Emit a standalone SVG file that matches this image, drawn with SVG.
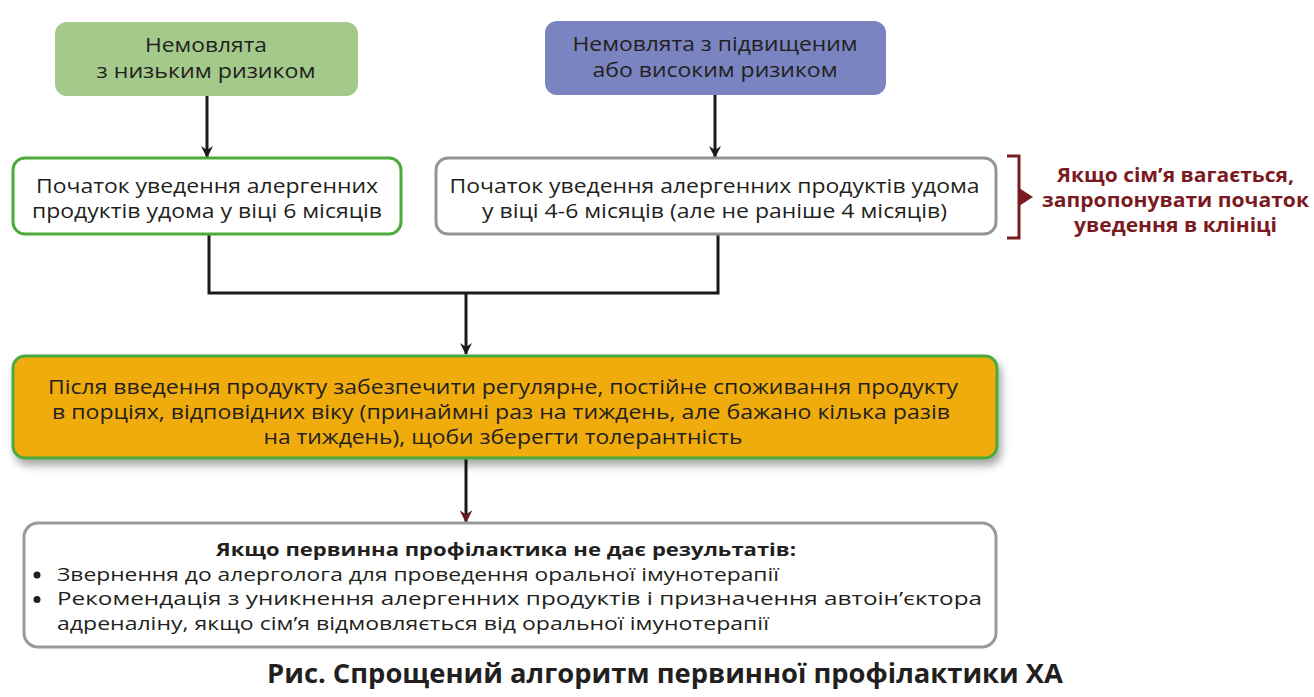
<svg xmlns="http://www.w3.org/2000/svg" width="1314" height="697" viewBox="0 0 1314 697">
<defs>
<style>
text{font-family:"Open Sans","Noto Sans","DejaVu Sans",sans-serif;font-size:20px;fill:#231f20;text-anchor:middle}
.b{font-weight:bold}
.s{font-size:18px}
.red{fill:#7a1a1f;font-weight:bold;font-size:20px}
.l{text-anchor:start}
.cap{font-size:26px;font-weight:bold}
.conn{fill:none;stroke:#1a1a1a;stroke-width:3}
</style>
<marker id="ahk" viewBox="0 0 12 12" refX="11" refY="6" markerWidth="12" markerHeight="12" orient="auto" markerUnits="userSpaceOnUse">
<path d="M0,0 L12,6 L0,12 L4,6 z" fill="#1a1a1a"/>
</marker>
<marker id="ahr" viewBox="0 0 12 12" refX="11" refY="6" markerWidth="13" markerHeight="13" orient="auto" markerUnits="userSpaceOnUse">
<path d="M0,0 L12,6 L0,12 L4,6 z" fill="#6b1a1a"/>
</marker>
<filter id="sh" x="-5%" y="-20%" width="110%" height="150%">
<feDropShadow dx="3" dy="6" stdDeviation="4" flood-color="#000" flood-opacity="0.35"/>
</filter>
</defs>
<rect width="1314" height="697" fill="#ffffff"/>

<g id="connectors">
<line class="conn" x1="207" y1="96" x2="207" y2="157" stroke-width="2" marker-end="url(#ahk)"/>
<line class="conn" x1="715" y1="95" x2="715" y2="157" stroke-width="2" marker-end="url(#ahk)"/>
<polyline class="conn" points="209,235 209,293 718,293 718,235"/>
<line class="conn" x1="466" y1="293" x2="466" y2="354" stroke-width="2" marker-end="url(#ahk)"/>
<line class="conn" x1="466" y1="458" x2="466" y2="522" stroke="#6b1a1a" marker-end="url(#ahr)"/>
</g>

<g id="node-low">
<rect x="55" y="22" width="303" height="74" rx="12" fill="#a3c98b"/>
<text x="206" y="52" textLength="122" lengthAdjust="spacingAndGlyphs">Немовлята</text>
<text x="206" y="78" textLength="219" lengthAdjust="spacingAndGlyphs">з низьким ризиком</text>
</g>

<g id="node-high">
<rect x="545" y="21" width="341" height="74" rx="12" fill="#7a84c0"/>
<text x="715" y="51" textLength="285" lengthAdjust="spacingAndGlyphs">Немовлята з підвищеним</text>
<text x="715" y="77" textLength="245" lengthAdjust="spacingAndGlyphs">або високим ризиком</text>
</g>

<g id="node-6m">
<rect x="13" y="158" width="388" height="76" rx="12" fill="#fff" stroke="#4caa3c" stroke-width="3"/>
<text x="207" y="193" textLength="342" lengthAdjust="spacingAndGlyphs">Початок уведення алергенних</text>
<text x="207" y="218" textLength="350" lengthAdjust="spacingAndGlyphs">продуктів удома у віці 6 місяців</text>
</g>

<g id="node-4-6m">
<rect x="436" y="158" width="560" height="76" rx="12" fill="#fff" stroke="#949494" stroke-width="3"/>
<text x="714.5" y="193" textLength="530" lengthAdjust="spacingAndGlyphs">Початок уведення алергенних продуктів удома</text>
<text x="714.5" y="218" textLength="465" lengthAdjust="spacingAndGlyphs">у віці 4-6 місяців (але не раніше 4 місяців)</text>
</g>

<g id="note-clinic">
<path d="M1007,156 L1019,156 L1019,238 L1007,238" fill="none" stroke="#7a1a1f" stroke-width="3"/>
<path d="M1019,188 L1033,197 L1019,206 z" fill="#7a1a1f"/>
<text class="red" x="1175.5" y="182" textLength="237" lengthAdjust="spacingAndGlyphs">Якщо сім’я вагається,</text>
<text class="red" x="1175.5" y="207" textLength="267" lengthAdjust="spacingAndGlyphs">запропонувати початок</text>
<text class="red" x="1175.5" y="232" textLength="203" lengthAdjust="spacingAndGlyphs">уведення в клініці</text>
</g>

<g id="node-regular">
<rect x="13" y="356" width="984" height="102" rx="12" fill="#f0ab10" stroke="#4caa3c" stroke-width="3" filter="url(#sh)"/>
<text x="503" y="394" textLength="910" lengthAdjust="spacingAndGlyphs">Після введення продукту забезпечити регулярне, постійне споживання продукту</text>
<text x="501" y="419" textLength="898" lengthAdjust="spacingAndGlyphs">в порціях, відповідних віку (принаймні раз на тиждень, але бажано кілька разів</text>
<text x="503" y="444" textLength="479" lengthAdjust="spacingAndGlyphs">на тиждень), щоби зберегти толерантність</text>
</g>

<g id="node-fail">
<rect x="24" y="523" width="972" height="124" rx="14" fill="#fff" stroke="#999" stroke-width="3"/>
<text class="b s" x="506" y="556" textLength="580" lengthAdjust="spacingAndGlyphs">Якщо первинна профілактика не дає результатів:</text>
<circle cx="37" cy="575" r="3.5" fill="#231f20"/>
<text class="l s" x="57" y="580.5" textLength="722" lengthAdjust="spacingAndGlyphs">Звернення до алерголога для проведення оральної імунотерапії</text>
<circle cx="37" cy="599.5" r="3.5" fill="#231f20"/>
<text class="l s" x="57" y="605" textLength="925" lengthAdjust="spacingAndGlyphs">Рекомендація з уникнення алергенних продуктів і призначення автоін’єктора</text>
<text class="l s" x="57" y="629.5" textLength="712" lengthAdjust="spacingAndGlyphs">адреналіну, якщо сім’я відмовляється від оральної імунотерапії</text>
</g>

<text class="cap" x="665" y="683" textLength="796" lengthAdjust="spacingAndGlyphs">Рис. Спрощений алгоритм первинної профілактики ХА</text>
</svg>
